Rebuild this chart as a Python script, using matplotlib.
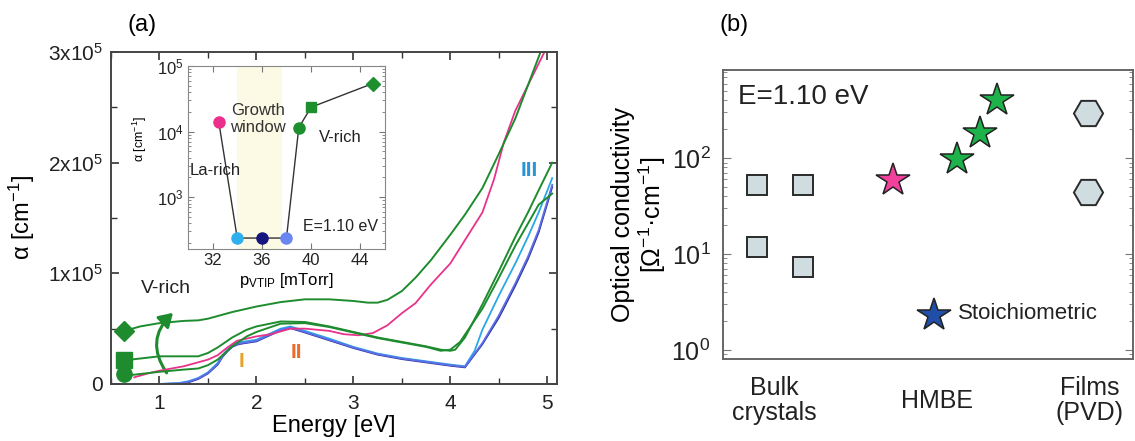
import matplotlib
matplotlib.use('Agg')
import matplotlib.pyplot as plt
from matplotlib.patches import FancyArrowPatch
from matplotlib.ticker import MultipleLocator, LogLocator, NullFormatter

plt.rcParams['font.family'] = ['Liberation Sans', 'DejaVu Sans']
plt.rcParams['mathtext.default'] = 'regular'

# ---- panel (a): absorption spectra, alpha in units of 1e5 cm^-1 ----
e_diamond = [0.68, 0.8, 1.0, 1.25, 1.4, 1.5, 1.75, 2.0, 2.25, 2.5, 2.75, 3.0, 3.15, 3.25, 3.35,
             3.5, 3.64, 3.8, 4.0, 4.15, 4.33, 4.5, 4.67, 4.8, 4.93]
a_diamond = [0.49, 0.52, 0.55, 0.57, 0.575, 0.59, 0.65, 0.70, 0.74, 0.765, 0.765, 0.75, 0.735, 0.735, 0.76,
             0.84, 0.96, 1.12, 1.35, 1.53, 1.77, 2.08, 2.40, 2.70, 3.0]

e_pink = [0.74, 0.9, 1.0, 1.25, 1.5, 1.6, 1.7, 1.8, 1.9, 2.0, 2.15, 2.35, 2.5, 2.75, 2.9, 3.05, 3.2,
          3.35, 3.5, 3.64, 3.8, 4.0, 4.15, 4.33, 4.45, 4.55, 4.67, 4.8, 4.97]
a_pink = [0.06, 0.10, 0.12, 0.16, 0.22, 0.26, 0.33, 0.39, 0.41, 0.43, 0.45, 0.50, 0.50, 0.48, 0.45, 0.44, 0.46,
          0.53, 0.64, 0.73, 0.90, 1.09, 1.30, 1.55, 1.85, 2.18, 2.47, 2.70, 3.0]

e_square = [0.7, 0.9, 1.0, 1.25, 1.4, 1.5, 1.6, 1.75, 1.9, 2.0, 2.25, 2.5, 2.75, 3.0, 3.25, 3.5, 3.75,
            3.9, 4.0, 4.05, 4.15, 4.33, 4.5, 4.67, 4.8, 4.91, 5.05]
a_square = [0.22, 0.24, 0.25, 0.25, 0.25, 0.28, 0.33, 0.42, 0.49, 0.52, 0.565, 0.56, 0.52, 0.47, 0.42, 0.38, 0.34,
            0.31, 0.30, 0.31, 0.42, 0.72, 1.02, 1.33, 1.55, 1.75, 2.0]

e_circle = [0.7, 0.9, 1.0, 1.25, 1.4, 1.5, 1.6, 1.75, 1.9, 2.0, 2.25, 2.5, 2.75, 3.0, 3.25, 3.5, 3.75,
            3.9, 4.0, 4.1, 4.33, 4.5, 4.67, 4.8, 4.91, 5.05]
a_circle = [0.08, 0.10, 0.11, 0.13, 0.14, 0.17, 0.22, 0.34, 0.43, 0.47, 0.545, 0.55, 0.515, 0.465, 0.415, 0.375, 0.335,
            0.30, 0.31, 0.38, 0.68, 0.96, 1.25, 1.45, 1.62, 1.72]

e_blue = [0.74, 1.0, 1.2, 1.3, 1.4, 1.5, 1.6, 1.65, 1.7, 1.75, 1.8, 1.85, 2.0, 2.1, 2.25, 2.35, 2.5, 2.75,
          3.0, 3.25, 3.5, 3.75, 4.0, 4.15, 4.33, 4.5, 4.67, 4.8, 4.91, 5.05]
a_blue = [0.0, 0.0, 0.005, 0.02, 0.05, 0.10, 0.18, 0.25, 0.30, 0.34, 0.36, 0.37, 0.39, 0.43, 0.49, 0.51, 0.47, 0.40,
          0.33, 0.27, 0.23, 0.20, 0.17, 0.155, 0.37, 0.62, 0.91, 1.15, 1.39, 1.80]
a_navy = [0.0, 0.0, 0.003, 0.015, 0.045, 0.095, 0.175, 0.245, 0.295, 0.335, 0.355, 0.365, 0.385, 0.425, 0.485, 0.505,
          0.465, 0.395, 0.325, 0.265, 0.225, 0.195, 0.165, 0.15, 0.36, 0.60, 0.89, 1.13, 1.37, 1.78]
e_lblue = [0.74, 1.0, 1.2, 1.3, 1.4, 1.5, 1.6, 1.65, 1.7, 1.75, 1.8, 1.85, 2.0, 2.1, 2.25, 2.35, 2.5, 2.75,
           3.0, 3.25, 3.5, 3.75, 4.0, 4.15, 4.25, 4.33, 4.5, 4.67, 4.8, 4.91, 5.05]
a_lblue = [0.0, 0.0, 0.008, 0.025, 0.055, 0.105, 0.19, 0.26, 0.31, 0.35, 0.37, 0.38, 0.40, 0.44, 0.50, 0.52, 0.48, 0.41,
           0.335, 0.275, 0.235, 0.205, 0.175, 0.16, 0.30, 0.49, 0.80, 1.09, 1.33, 1.55, 1.86]

# markers at the left edge of panel (a)
marker_e = 0.63
marker_a = {'D': 0.48, 's': 0.22, 'o': 0.09}

# ---- inset: alpha at E = 1.10 eV vs p_VTIP ----
p_vtip = [32.5, 34, 36, 38, 39, 40, 45]
alpha_110 = [1.42e4, 238, 238, 238, 1.15e4, 2.35e4, 5.4e4]
inset_colors = ['#ec2f8c', '#2fb0ee', '#14167e', '#6a86f0', '#1d8f2e', '#1d8f2e', '#1d8f2e']
inset_markers = ['o', 'o', 'o', 'o', 'o', 's', 'D']

# ---- panel (b): optical conductivity at 1.10 eV ----
bulk_x = [0.83, 1.95, 0.83, 1.95]
bulk_sigma = [53, 52, 11.8, 7.3]
films_x = [8.9, 8.9]
films_sigma = [296, 44]
hmbe_x = [4.15, 5.71, 6.27, 6.68]
hmbe_sigma = [59, 97, 183, 405]
hmbe_colors = ['#f2419c', '#1db34a', '#1db34a', '#1db34a']
stoich_x = 5.15
stoich_sigma = 2.3
cat_x = [1.24, 5.22, 8.95]
cat_labels = ['Bulk\ncrystals', 'HMBE', 'Films\n(PVD)']

green = '#1e8c2e'
pink = '#e8338a'

fig = plt.figure(figsize=(11.35, 4.41), dpi=100)

# ================= panel (a) =================
ax = fig.add_axes([0.0978, 0.1293, 0.393, 0.7528])
ax.plot(e_blue, [v * 1e5 for v in a_navy], color='#2b2f9e', lw=1.3)
ax.plot(e_lblue, [v * 1e5 for v in a_lblue], color='#2aa8e6', lw=1.3)
ax.plot(e_blue, [v * 1e5 for v in a_blue], color='#5d6fe6', lw=1.3)
ax.plot(e_pink, [v * 1e5 for v in a_pink], color=pink, lw=1.3)
ax.plot(e_circle, [v * 1e5 for v in a_circle], color=green, lw=1.4)
ax.plot(e_square, [v * 1e5 for v in a_square], color=green, lw=1.4)
ax.plot(e_diamond, [v * 1e5 for v in a_diamond], color=green, lw=1.4)
for m, v in marker_a.items():
    ax.plot(marker_e, v * 1e5, marker=m, color=green, ms=11 if m != 'D' else 10,
            clip_on=False, zorder=5)

arr = FancyArrowPatch((1.09, 0.08e5), (1.16, 0.66e5), connectionstyle='arc3,rad=-0.45',
                      arrowstyle='-|>,head_length=8,head_width=5', color=green, lw=2.2)
ax.add_patch(arr)
ax.text(1.07, 0.86e5, 'V-rich', fontsize=14, ha='center', va='center', color='#222')
ax.text(1.845, 0.2e5, 'I', fontsize=15, ha='center', va='center', color='#e8a22a', fontweight='bold')
ax.text(2.41, 0.28e5, 'II', fontsize=15, ha='center', va='center', color='#ec6a2a', fontweight='bold')
ax.text(4.81, 1.93e5, 'III', fontsize=15, ha='center', va='center', color='#2a95d6', fontweight='bold')

ax.set_xlim(0.5, 5.1)
ax.set_ylim(0, 3e5)
ax.set_xticks([1, 2, 3, 4, 5])
ax.xaxis.set_minor_locator(MultipleLocator(0.5))
ax.set_yticks([0, 1e5, 2e5, 3e5], ['0', r'1x10$^5$', r'2x10$^5$', r'3x10$^5$'])
ax.yaxis.set_minor_locator(MultipleLocator(0.5e5))
ax.tick_params(which='both', direction='in', top=True, right=True, colors='#333', labelcolor='#222')
ax.tick_params(which='major', length=6, width=1.2, labelsize=15)
ax.tick_params(which='minor', length=4, width=1.0)
ax.tick_params(axis='x', pad=7)
ax.tick_params(axis='y', pad=6)
for s in ax.spines.values():
    s.set_color('#444')
    s.set_linewidth(1.4)
ax.set_xlabel('Energy [eV]', fontsize=17, labelpad=2)
ax.set_ylabel(r'α [cm$^{-1}$]', fontsize=17)
ax.yaxis.set_label_coords(-0.165, 0.5)

# ================= inset =================
ins = fig.add_axes([0.1656, 0.4354, 0.1736, 0.415])
ins.axvspan(34.0, 37.6, color='#fcf9e4', lw=0, zorder=0)
ins.plot(p_vtip, alpha_110, color='#333', lw=1.0, zorder=2)
for px, py, c, m in zip(p_vtip, alpha_110, inset_colors, inset_markers):
    ins.plot(px, py, marker=m, color=c, ms=8 if m == 'o' else 7.5, zorder=3)
ins.set_yscale('log')
ins.set_xlim(30, 46)
ins.set_ylim(10 ** 2.21, 1e5)
ins.set_xticks([32, 36, 40, 44])
ins.yaxis.set_major_locator(LogLocator(base=10, numticks=10))
ins.yaxis.set_minor_locator(LogLocator(base=10, subs=range(2, 10), numticks=10))
ins.yaxis.set_minor_formatter(NullFormatter())
ins.tick_params(which='both', direction='in', top=True, right=True, colors='#777', labelcolor='#222')
ins.tick_params(which='major', length=4, labelsize=12, pad=3)
ins.tick_params(which='minor', length=2)
for s in ins.spines.values():
    s.set_color('#888')
ins.set_xlabel(r'p$_{VTIP}$ [mTorr]', fontsize=12, labelpad=2)
ins.set_ylabel(r'α [cm$^{-1}$]', fontsize=9)
ins.yaxis.set_label_coords(-0.2, 0.6)
ins.text(35.7, 1.55e4, 'Growth\nwindow', fontsize=12, ha='center', va='center', color='#333',
         linespacing=1.1)
ins.text(32.2, 2.55e3, 'La-rich', fontsize=12, ha='center', va='center', color='#222')
ins.text(42.4, 8.2e3, 'V-rich', fontsize=12, ha='center', va='center', color='#222')
ins.text(42.4, 360, 'E=1.10 eV', fontsize=11.5, ha='center', va='center', color='#222')

fig.text(0.125, 0.943, '(a)', fontsize=17, ha='center', va='center')

# ================= panel (b) =================
bx = fig.add_axes([0.637, 0.186, 0.3612, 0.6553])
bx.plot(bulk_x, bulk_sigma, ls='none', marker='s', ms=15, mfc='#cfdde1', mec='#2a2a2a', mew=1.4)
bx.plot(films_x, films_sigma, ls='none', marker='H', ms=21, mfc='#cfdde1', mec='#2a2a2a', mew=1.4)
for hx, hs, c in zip(hmbe_x, hmbe_sigma, hmbe_colors):
    bx.plot(hx, hs, marker='*', ms=25, mfc=c, mec='#222', mew=1.1)
bx.plot(stoich_x, stoich_sigma, marker='*', ms=25, mfc='#1f4fa8', mec='#222', mew=1.1)
bx.text(5.73, 2.4, 'Stoichiometric', fontsize=16, ha='left', va='center', color='#222')
bx.text(0.37, 436, 'E=1.10 eV', fontsize=20, ha='left', va='center', color='#222')

bx.set_yscale('log')
bx.set_xlim(0, 10)
bx.set_ylim(10 ** -0.094, 10 ** 2.92)
bx.set_xticks([])
bx.yaxis.set_major_locator(LogLocator(base=10, numticks=10))
bx.yaxis.set_minor_locator(LogLocator(base=10, subs=range(2, 10), numticks=10))
bx.yaxis.set_minor_formatter(NullFormatter())
bx.tick_params(which='both', direction='in', right=True, colors='#777', labelcolor='#222')
bx.tick_params(which='major', length=6, labelsize=18, pad=9)
bx.tick_params(which='minor', length=3)
for s in bx.spines.values():
    s.set_color('#666')
    s.set_linewidth(1.4)
for cx, lab in zip(cat_x, cat_labels):
    bx.text(cx, -0.145, lab, transform=bx.get_xaxis_transform(), fontsize=18, ha='center',
            va='center', color='#222', linespacing=1.05)
bx.set_ylabel('Optical conductivity\n[Ω$^{-1}$·cm$^{-1}$]', fontsize=18, linespacing=1.05)
bx.yaxis.set_label_coords(-0.135, 0.5)

fig.text(0.647, 0.943, '(b)', fontsize=17, ha='center', va='center')

fig.savefig('out.png', dpi=100)
